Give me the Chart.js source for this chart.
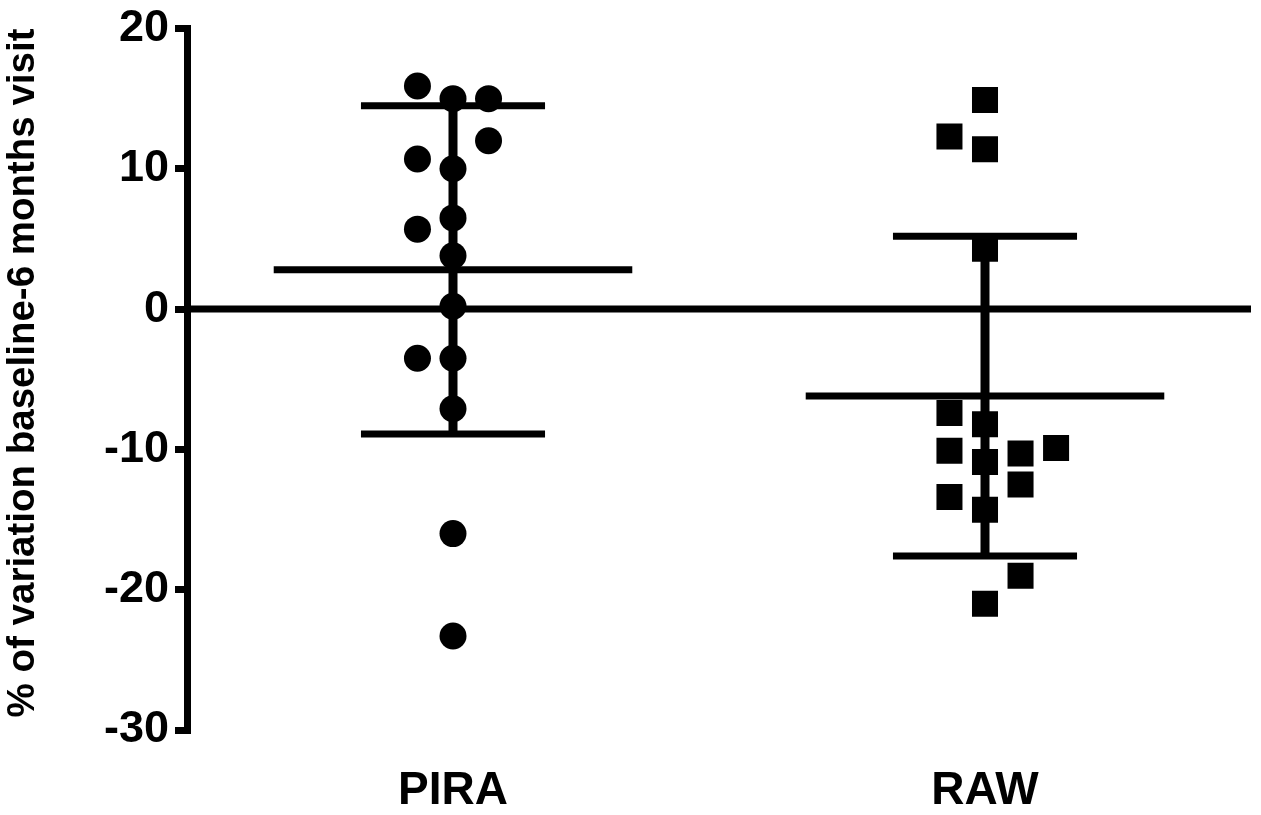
<!DOCTYPE html>
<html>
<head>
<meta charset="utf-8">
<script src="https://cdn.jsdelivr.net/npm/chart.js@4.4.1/dist/chart.umd.min.js"></script>
<style>
html,body{margin:0;padding:0;background:#fff;}
#wrap{position:relative;width:1261px;height:815px;}
</style>
</head>
<body>
<div id="wrap"><canvas id="c"></canvas></div>
<script>
// ---- data ----
const categories = ['PIRA', 'RAW'];
const piraValues = [15.9, 15.0, 15.0, 12.0, 10.7, 10.0, 6.5, 5.7, 3.8, 0.2, -3.5, -3.5, -7.1, -16.0, -23.3];
const piraSlot   = [-1, 0, 1, 1, -1, 0, 0, -1, 0, 0, -1, 0, 0, 0, 0];
const rawValues  = [14.9, 12.3, 11.4, 4.3, -7.4, -8.2, -9.9, -10.1, -10.3, -10.9, -12.5, -13.4, -14.3, -19.0, -21.0];
const rawSlot    = [0, -1, 0, 0, -1, 0, 2, -1, 1, 0, 1, -1, 0, 1, 0];
const groupMean  = [2.8, -6.2];
const groupSD    = [11.7, 11.4];
const yTicks     = [-30, -20, -10, 0, 10, 20];
const yTitle     = '% of variation baseline-6 months visit';

// ---- layout constants ----
const SLOT_W = 0.0668;   // horizontal spacing of side-by-side markers (x units)
const MEAN_HALF = 0.337; // half length of mean line
const CAP_HALF = 0.173;  // half length of SD caps

function pts(values, slots, gx) {
  return values.map((v, i) => ({x: gx + slots[i] * SLOT_W, y: v}));
}
function hline(gx, y, half) { return [{x: gx - half, y: y}, {x: gx + half, y: y}]; }

const lineStyle = {type: 'line', borderColor: '#000', backgroundColor: '#000', pointRadius: 0,
                   showLine: true, fill: false, tension: 0, order: 0, borderCapStyle: 'butt'};

const datasets = [];
// zero line
datasets.push(Object.assign({}, lineStyle, {data: [{x: 0.5, y: 0}, {x: 2.5, y: 0}], borderWidth: 7}));
// mean / SD bars
[0, 1].forEach(g => {
  const gx = g + 1, m = groupMean[g], s = groupSD[g];
  datasets.push(Object.assign({}, lineStyle, {data: hline(gx, m, MEAN_HALF), borderWidth: 7}));
  datasets.push(Object.assign({}, lineStyle, {data: hline(gx, m + s, CAP_HALF), borderWidth: 7}));
  datasets.push(Object.assign({}, lineStyle, {data: hline(gx, m - s, CAP_HALF), borderWidth: 7}));
  datasets.push(Object.assign({}, lineStyle, {data: [{x: gx, y: m - s}, {x: gx, y: m + s}], borderWidth: 9}));
});
// points
datasets.push({type: 'scatter', data: pts(piraValues, piraSlot, 1), pointStyle: 'circle', pointRadius: 13.5,
               backgroundColor: '#000', borderColor: '#000', borderWidth: 0, order: 1});
datasets.push({type: 'scatter', data: pts(rawValues, rawSlot, 2), pointStyle: 'rect', pointRadius: 18.4,
               backgroundColor: '#000', borderColor: '#000', borderWidth: 0, order: 1});

new Chart(document.getElementById('c'), {
  type: 'scatter',
  data: {datasets: datasets},
  options: {
    responsive: true,
    maintainAspectRatio: false,
    animation: false,
    events: [],
    layout: {autoPadding: false, padding: {top: 25, right: 10, left: 0, bottom: 0}},
    plugins: {legend: {display: false}, tooltip: {enabled: false}},
    scales: {
      x: {
        type: 'linear', min: 0.5, max: 2.5,
        afterBuildTicks: s => { s.ticks = categories.map((c, i) => ({value: i + 1})); },
        afterFit: s => { s.height = 85; s.paddingLeft = 0; s.paddingRight = 0; },
        grid: {display: false, drawTicks: false},
        border: {display: false},
        ticks: {
          padding: 38,
          color: '#000',
          font: {family: "'Liberation Sans', Arial, sans-serif", size: 46, weight: 'bold', lineHeight: 1.0},
          callback: v => categories[Math.round(v) - 1] || ''
        }
      },
      y: {
        type: 'linear', min: -30, max: 20,
        afterBuildTicks: s => { s.ticks = yTicks.map(v => ({value: v})); },
        afterFit: s => { s.width = 187; },
        grid: {display: true, drawOnChartArea: false, drawTicks: true, tickLength: 12, lineWidth: 7, color: '#000'},
        border: {display: true, width: 7, color: '#000'},
        ticks: {
          padding: 6,
          color: '#000',
          font: {family: "'Liberation Sans', Arial, sans-serif", size: 45, weight: 'bold', lineHeight: 1.0}
        },
        title: {
          display: true,
          text: yTitle,
          align: 'end',
          color: '#000',
          padding: {top: 4, bottom: 0},
          font: {family: "'Liberation Sans', Arial, sans-serif", size: 38.5, weight: 'bold', lineHeight: 1.0}
        }
      }
    }
  }
});
</script>
</body>
</html>
